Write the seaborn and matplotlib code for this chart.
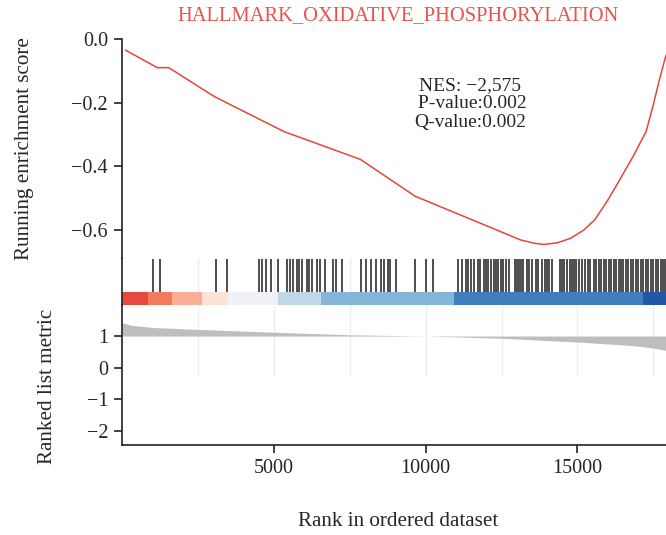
import numpy as np
import pandas as pd
import matplotlib
matplotlib.use("Agg")
import matplotlib.pyplot as plt
import seaborn as sns

# ---------------- data ----------------
title = "HALLMARK_OXIDATIVE_PHOSPHORYLATION"
es_rank = [115, 1164, 1541, 3046, 5344, 7852, 9662, 11820, 12475, 13131, 13567, 13895,
           14334, 14770, 15207, 15567, 16007, 16387, 16826, 17262, 17482, 17698, 17918]
es_score = [-0.035, -0.09, -0.09, -0.181, -0.291, -0.378, -0.494, -0.579, -0.605, -0.631,
            -0.641, -0.645, -0.640, -0.626, -0.600, -0.568, -0.505, -0.443, -0.370,
            -0.291, -0.213, -0.129, -0.050]

hit_rank = [1033, 1239, 3098, 3459, 4498, 4616, 4748, 4902, 5131, 5449, 5534, 5623, 5754,
            5843, 5918, 6082, 6170, 6246, 6410, 6518, 6682, 6957, 7043, 7262, 7885, 8049,
            8213, 8354, 8541, 8616, 8761, 8836, 9010, 9666, 10016, 10256,
            11075, 11187, 11328, 11403, 11492, 11600, 11711, 11797, 11908, 11984, 12059,
            12148, 12256, 12311, 12387, 12475, 12564, 12639, 12748, 12935, 13000, 13075,
            13154, 13220, 13328, 13403, 13515, 13623, 13698, 13843, 13918, 14007, 14059,
            14171, 14420, 14498, 14574, 14662, 14748, 14826, 14879, 14968, 15043, 15154,
            15262, 15338, 15426, 15534, 15623, 15698, 15777, 15862, 15951, 16026, 16105,
            16190, 16279, 16354, 16433, 16518, 16607, 16682, 16761, 16846, 16934, 17010,
            17089, 17174, 17262, 17338, 17417, 17501, 17590, 17665, 17744, 17829, 17885]

band_edges = [0, 869, 1656, 2639, 3492, 5131, 6541, 10934, 17164, 18600]
band_colors = ["#E64A3E", "#F47A5E", "#FCAE94", "#FDE3D6", "#F0F1F8",
               "#C0D8E6", "#83B6D8", "#3F80BC", "#2456A6"]

metric_rank = [0, 300, 1000, 2500, 5000, 7500, 10000, 12500, 15000, 16500, 17000, 17500, 17950]
metric_value = [1.42, 1.34, 1.27, 1.21, 1.12, 1.04, 1.0, 0.93, 0.81, 0.72, 0.68, 0.62, 0.54]

nes_text = "NES: \u22122,575\n P-value:0.002\nQ-value:0.002"
x_ticks = [5000, 10000, 15000]
es_ticks = [0.0, -0.2, -0.4, -0.6]
metric_ticks = [1, 0, -1, -2]

# ---------------- style ----------------
sns.set_style("ticks")
plt.rcParams["font.family"] = ["Liberation Serif", "DejaVu Serif"]
plt.rcParams["axes.unicode_minus"] = True

W, H = 666, 535
fig = plt.figure(figsize=(W / 100, H / 100), dpi=100)

left = 122 / W
right = 1.0
def fy(py):
    return 1 - py / H

XMAX = 17918
ax_es = fig.add_axes([left, fy(258), right - left, fy(39) - fy(258)])
ax_rug = fig.add_axes([left, fy(305), right - left, fy(258) - fy(305)])
ax_m = fig.add_axes([left, fy(445), right - left, fy(305) - fy(445)])

spine_c = "#222222"
tick_fs = 14.5
lab_fs = 15.2

# ES curve
df_es = pd.DataFrame({"rank": es_rank, "es": es_score})
sns.lineplot(data=df_es, x="rank", y="es", ax=ax_es, color="#E8443A", linewidth=1.1)
ax_es.set_xlim(0, XMAX)
ax_es.set_ylim(-0.6876, 0.0)
ax_es.set_yticks(es_ticks)
ax_es.set_yticklabels([f"{t:.1f}".replace("-", "\u2212") for t in es_ticks])
ax_es.set_xticks([])
ax_es.set_xlabel("")
ax_es.set_ylabel("Running enrichment score", fontsize=lab_fs)
ax_es.yaxis.set_label_coords(-0.162, 0.5)
for s in ["top", "right", "bottom"]:
    ax_es.spines[s].set_visible(False)
ax_es.text(11459, -0.204, nes_text, ha="center", va="center", fontsize=14,
           linespacing=1.1)

# Rug
ax_rug.set_xlim(0, XMAX)
ax_rug.set_ylim(0, 1)
for g in np.arange(2500, XMAX, 2500):
    ax_rug.axvline(g, color="#EBEBEB", lw=0.8, zorder=0)
ax_rug.vlines(hit_rank, 0.277, 0.98, color="#151515", lw=1.15, alpha=0.92, zorder=2)
starts = band_edges[:-1]
widths = [b - a for a, b in zip(band_edges[:-1], band_edges[1:])]
ax_rug.bar(starts, [0.277] * len(starts), width=widths, bottom=0, align="edge",
           color=band_colors, linewidth=0, zorder=1)
ax_rug.set_xticks([])
ax_rug.set_yticks([])
for s in ["top", "right", "bottom"]:
    ax_rug.spines[s].set_visible(False)

# Ranked metric
ax_m.set_xlim(0, XMAX)
ax_m.set_ylim(-2.44, 1.98)
ax_m.vlines(np.arange(2500, XMAX, 2500), -0.26, 1.98, color="#EBEBEB", lw=0.8, zorder=0)
ax_m.fill_between(metric_rank, metric_value, 1.0, color="#BEBEBE", linewidth=0, zorder=1)
ax_m.set_xticks(x_ticks)
ax_m.set_yticks(metric_ticks)
ax_m.set_yticklabels([str(t).replace("-", "\u2212") for t in metric_ticks])
ax_m.set_xlabel("Rank in ordered dataset", fontsize=lab_fs)
ax_m.xaxis.set_label_coords(0.507, -0.476)
ax_m.set_ylabel("Ranked list metric", fontsize=lab_fs)
ax_m.yaxis.set_label_coords(-0.1195, 0.42)
for s in ["top", "right"]:
    ax_m.spines[s].set_visible(False)

for ax in (ax_es, ax_rug, ax_m):
    for s in ["left", "bottom"]:
        ax.spines[s].set_color(spine_c)
        ax.spines[s].set_linewidth(1.2)
    ax.tick_params(axis="both", direction="out", length=6, width=1.2, color=spine_c,
                   labelsize=tick_fs, pad=4)
    ax.set_facecolor("none")

fig.text(398 / W, fy(16), title, ha="center", va="center", fontsize=14.8, color="#E8534B")

fig.savefig("out.png", dpi=100)
